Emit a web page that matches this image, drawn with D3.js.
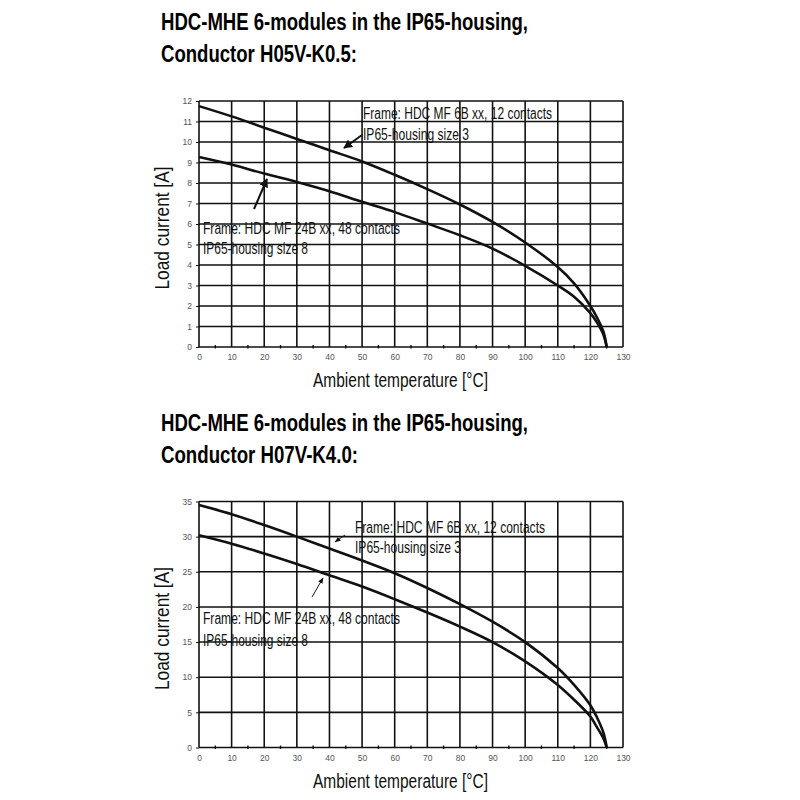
<!DOCTYPE html>
<html><head><meta charset="utf-8">
<script src="https://cdn.jsdelivr.net/npm/d3@7"></script>
<style>
body{margin:0;background:#fff;}
svg{display:block;}
.title{font-family:"Liberation Sans",Arial,sans-serif;font-weight:bold;font-size:23.5px;fill:#000;}
.ann{font-family:"Liberation Sans",Arial,sans-serif;font-size:16px;fill:#111;}
.axlab{font-family:"Liberation Sans",Arial,sans-serif;font-size:20px;fill:#111;}
.tick text{font-family:"Liberation Sans",Arial,sans-serif;font-size:8.5px;fill:#555;}
</style></head>
<body>
<svg id="c" width="800" height="800"></svg>
<script>
// ---- data ----
const xTicks = [0,10,20,30,40,50,60,70,80,90,100,110,120,130];
const temps = [0,10,20,30,40,50,60,70,80,90,100,110,115,120,122,124,125];

// Chart 1: Conductor H05V-K0.5
const c1Yticks = [0,1,2,3,4,5,6,7,8,9,10,11,12];
const c1Frame6B  = [11.75,11.25,10.7,10.15,9.6,9.05,8.4,7.7,6.95,6.1,5.1,3.9,3.1,2.0,1.45,0.75,0];
const c1Frame24B = [9.27,8.9,8.46,8.05,7.6,7.08,6.58,6.02,5.45,4.8,3.96,3.0,2.45,1.65,1.2,0.6,0];

// Chart 2: Conductor H07V-K4.0
const c2Yticks = [0,5,10,15,20,25,30,35];
const c2Frame6B  = [34.5,33.2,31.65,30.0,28.3,26.6,24.8,22.7,20.4,17.9,15.0,11.3,8.9,6.0,4.3,2.1,0];
const c2Frame24B = [30.2,29.0,27.6,26.1,24.5,22.9,21.1,19.2,17.2,15.0,12.25,8.9,6.8,4.4,2.9,1.3,0];

const titlesL1 = ["HDC-MHE 6-modules in the IP65-housing,","HDC-MHE 6-modules in the IP65-housing,"];
const titlesL2 = ["Conductor H05V-K0.5:","Conductor H07V-K4.0:"];
const ann6B = ["Frame: HDC MF 6B xx, 12 contacts","IP65-housing size 3"];
const ann24B = ["Frame: HDC MF 24B xx, 48 contacts","IP65-housing size 8"];
const xLabel = "Ambient temperature [°C]";
const yLabel = "Load current [A]";

const svg = d3.select("#c");
const defs = svg.append("defs");
defs.append("marker").attr("id","ahBig").attr("viewBox","0 0 10 10").attr("refX",9).attr("refY",5)
  .attr("markerWidth",4.5).attr("markerHeight",4.5).attr("orient","auto").attr("markerUnits","strokeWidth")
  .append("path").attr("d","M0,0 L10,5 L0,10 z").attr("fill","#111");
defs.append("marker").attr("id","ahSmall").attr("viewBox","0 0 10 10").attr("refX",9).attr("refY",5)
  .attr("markerWidth",6).attr("markerHeight",6).attr("orient","auto").attr("markerUnits","strokeWidth")
  .append("path").attr("d","M0,1 L10,5 L0,9 z").attr("fill","#111");

function txt(g, cls, x, y, s, len){
  return g.append("text").attr("class",cls).attr("x",x).attr("y",y)
    .attr("textLength",len).attr("lengthAdjust","spacingAndGlyphs").text(s);
}

function drawChart(cfg){
  const g = svg.append("g");
  const x = d3.scaleLinear().domain([0,130]).range([199,623]);
  const y = d3.scaleLinear().domain([0,cfg.ymax]).range([cfg.y0,cfg.y1]);

  txt(g,"title",161,cfg.titleY,cfg.t1,367);
  txt(g,"title",161,cfg.titleY+32,cfg.t2,cfg.t2len);

  // grid
  g.selectAll(".vg").data(xTicks).join("line")
    .attr("x1",d=>x(d)).attr("x2",d=>x(d)).attr("y1",y(0)).attr("y2",y(cfg.ymax))
    .attr("stroke","#111").attr("stroke-width",1.6);
  g.selectAll(".hg").data(cfg.yticks).join("line")
    .attr("x1",x(0)).attr("x2",x(130)).attr("y1",d=>y(d)).attr("y2",d=>y(d))
    .attr("stroke","#111").attr("stroke-width",1.6);

  // axes (labels + minor ticks)
  const xa = g.append("g").attr("class","tick").attr("transform",`translate(0,${y(0)})`)
    .call(d3.axisBottom(x).tickValues(xTicks).tickSize(0).tickPadding(7));
  xa.select(".domain").remove();
  g.selectAll(".mt").data(d3.range(5,130,10)).join("line")
    .attr("x1",d=>x(d)).attr("x2",d=>x(d)).attr("y1",y(0)-2).attr("y2",y(0)+1.5)
    .attr("stroke","#111").attr("stroke-width",1.4);
  const ya = g.append("g").attr("class","tick").attr("transform",`translate(${x(0)},0)`)
    .call(d3.axisLeft(y).tickValues(cfg.yticks).tickSize(3).tickPadding(4));
  ya.select(".domain").remove();
  ya.selectAll("line").attr("stroke","#111");

  // curves
  const line = d3.line().x((d,i)=>x(temps[i])).y(d=>y(d)).curve(d3.curveCatmullRom.alpha(0.5));
  [cfg.s1,cfg.s2].forEach(s=>{
    g.append("path").attr("d",line(s)).attr("fill","none").attr("stroke","#111")
      .attr("stroke-width",2.6).attr("stroke-linejoin","round");
  });

  // annotations
  cfg.ann.forEach(a=> txt(g,"ann",a.x,a.y,a.t,a.w));
  cfg.arrows.forEach(a=>{
    g.append("line").attr("x1",a[0]).attr("y1",a[1]).attr("x2",a[2]).attr("y2",a[3])
      .attr("stroke","#111").attr("stroke-width",cfg.aw).attr("marker-end",`url(#${cfg.marker})`);
  });

  txt(g,"axlab",313,cfg.y0+40,xLabel,175);
  const cy = (cfg.y0+cfg.y1)/2 + 4;
  g.append("text").attr("class","axlab").attr("transform",`translate(169,${cy}) rotate(-90)`)
    .attr("text-anchor","middle").attr("textLength",123).attr("lengthAdjust","spacingAndGlyphs").text(yLabel);
}

drawChart({ymax:12,y0:347,y1:101,yticks:c1Yticks,s1:c1Frame6B,s2:c1Frame24B,
  titleY:30,t1:titlesL1[0],t2:titlesL2[0],t2len:196,
  ann:[{x:363,y:119,t:ann6B[0],w:189},{x:363,y:140,t:ann6B[1],w:106},
       {x:203,y:234,t:ann24B[0],w:197},{x:203,y:254,t:ann24B[1],w:105}],
  arrows:[[362,135,344,148],[254,209,267,179]], aw:2, marker:"ahBig"});

drawChart({ymax:35,y0:747.5,y1:501.5,yticks:c2Yticks,s1:c2Frame6B,s2:c2Frame24B,
  titleY:431,t1:titlesL1[1],t2:titlesL2[1],t2len:197,
  ann:[{x:355,y:532.5,t:ann6B[0],w:190},{x:355,y:553,t:ann6B[1],w:106},
       {x:203,y:623.5,t:ann24B[0],w:197},{x:203,y:645.5,t:ann24B[1],w:105}],
  arrows:[[345,535,335,542],[312,597,323,578]], aw:1, marker:"ahSmall"});
</script>
</body></html>
